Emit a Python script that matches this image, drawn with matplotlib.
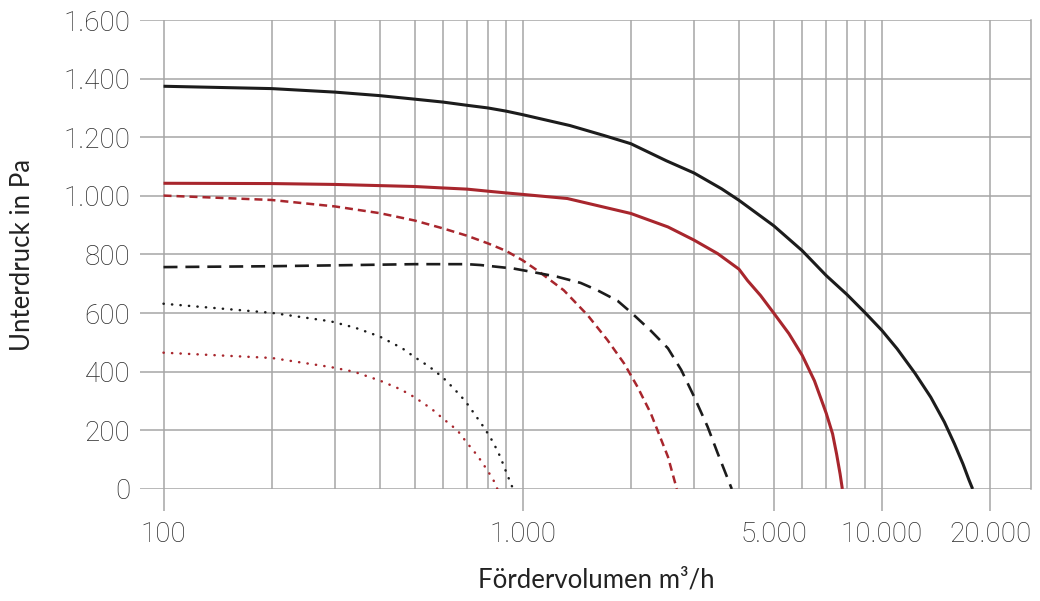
import matplotlib
matplotlib.use('Agg')
import matplotlib.pyplot as plt
from matplotlib.ticker import FixedLocator, FuncFormatter, NullFormatter

plt.rcParams['font.family'] = ['Lato', 'DejaVu Sans']

# curve data (x in m3/h, y in Pa)
x_black_solid = [100, 200, 300, 400, 500, 600, 700, 800, 900, 1000, 1353, 1684, 2000, 2509, 3000,
                 3580, 4000, 5000, 6000, 7000, 8000, 9000, 10000, 11030, 12360, 13680,
                 14930, 15920, 16820, 17460, 17890]
y_black_solid = [1374, 1366, 1354, 1342, 1330, 1320, 1309, 1300, 1289, 1277, 1240, 1206, 1178, 1120, 1078,
                 1024, 985, 898, 813, 728, 663, 600, 541, 478, 395, 313,
                 228, 154, 85, 32, 0]

x_red_solid = [100, 200, 300, 400, 500, 600, 700, 800, 900, 1000, 1331, 2000, 2537, 3000,
               3490, 4000, 4227, 4594, 5000, 5510, 6000, 6490, 6850, 7000, 7290, 7480, 7650, 7760]
y_red_solid = [1043, 1042, 1039, 1035, 1032, 1027, 1023, 1016, 1010, 1005, 991, 940, 894, 849,
               803, 750, 711, 660, 600, 530, 456, 369, 290, 258, 188, 119, 51, 0]

x_red_dashed = [100, 200, 300, 400, 500, 600, 700, 800, 900, 1000, 1100, 1301, 1516,
                1722, 1916, 2086, 2273, 2373, 2537, 2685]
y_red_dashed = [1001, 986, 964, 941, 916, 889, 864, 838, 812, 780, 745, 678, 593,
                508, 428, 349, 258, 200, 110, 0]

x_black_dashed = [100, 200, 300, 500, 700, 763, 944, 1100, 1249, 1450, 1614, 1837, 2000,
                  2273, 2537, 2763, 3000, 3270, 3490, 3820]
y_black_dashed = [757, 760, 763, 767, 767, 764, 752, 737, 724, 703, 678, 642, 603,
                  540, 480, 406, 315, 213, 122, 0]

x_black_dotted = [100, 200, 292, 342, 400, 462, 500, 550, 600, 645, 692, 736, 782, 827,
                  866, 900, 940]
y_black_dotted = [632, 601, 572, 550, 520, 480, 450, 417, 380, 341, 300, 254, 208, 160,
                  110, 57, 0]

x_red_dotted = [100, 200, 292, 339, 400, 457, 500, 558, 600, 658, 700, 749, 791, 827, 850]
y_red_dotted = [465, 447, 416, 400, 370, 340, 313, 273, 240, 200, 157, 113, 70, 33, 0]

major_ticks = [100, 1000, 5000, 10000, 20000]
minor_ticks = [200, 300, 400, 500, 600, 700, 800, 900,
               2000, 3000, 4000, 6000, 7000, 8000, 9000]
y_ticks = [0, 200, 400, 600, 800, 1000, 1200, 1400, 1600]

black = '#1c1c1c'
red = '#a8262d'
grid = '#a6a6a6'

fig = plt.figure(figsize=(10.4, 6.01), dpi=100)
ax = fig.add_axes([0.1346, 0.1864, 0.8567, 0.7803])

ax.plot(x_black_solid, y_black_solid, color=black, lw=2.2, solid_capstyle='butt')
ax.plot(x_red_solid, y_red_solid, color=red, lw=2.2, solid_capstyle='butt')
ax.plot(x_red_dashed, y_red_dashed, color=red, lw=1.8, linestyle=(0, (3.2, 2.0)))
ax.plot(x_black_dashed, y_black_dashed, color=black, lw=1.9, linestyle=(0, (5.3, 3.0)))
ax.plot(x_black_dotted, y_black_dotted, color=black, lw=1.8, linestyle=(0, (0.1, 3.3)),
        dash_capstyle='round')
ax.plot(x_red_dotted, y_red_dotted, color=red, lw=1.8, linestyle=(0, (0.1, 3.3)),
        dash_capstyle='round')

ax.set_xscale('log')
ax.set_xlim(86, 26000)
ax.set_ylim(0, 1600)

ax.xaxis.set_major_locator(FixedLocator(major_ticks))
ax.xaxis.set_minor_locator(FixedLocator(minor_ticks))
ax.xaxis.set_minor_formatter(NullFormatter())
ax.xaxis.set_major_formatter(FuncFormatter(lambda v, p: f'{int(v):,}'.replace(',', '.')))
ax.yaxis.set_major_locator(FixedLocator(y_ticks))
ax.yaxis.set_major_formatter(FuncFormatter(lambda v, p: f'{int(v):,}'.replace(',', '.')))

ax.grid(True, which='both', color=grid, lw=1.1)
ax.set_axisbelow(True)

ax.tick_params(axis='x', which='major', length=16, width=1.1, color=grid, pad=7,
               labelsize=20, labelcolor='#2a2a2a')
ax.tick_params(axis='x', which='minor', length=0)
ax.tick_params(axis='y', length=0, pad=7, labelsize=20, labelcolor='#2a2a2a')
for lab in ax.get_xticklabels() + ax.get_yticklabels():
    lab.set_family(['Roboto', 'DejaVu Sans'])
    lab.set_fontweight('light')

for side in ['left', 'top', 'bottom']:
    ax.spines[side].set_visible(False)
ax.spines['right'].set_color(grid)
ax.spines['right'].set_linewidth(1.1)

fig.text(0.573, 0.035, 'Fördervolumen m³/h', fontsize=18.5, color='#222222',
         ha='center', va='center')
fig.text(0.0212, 0.5757, 'Unterdruck in Pa', fontsize=18.5, color='#222222',
         ha='center', va='center', rotation=90)

fig.savefig('out.png', dpi=100)
